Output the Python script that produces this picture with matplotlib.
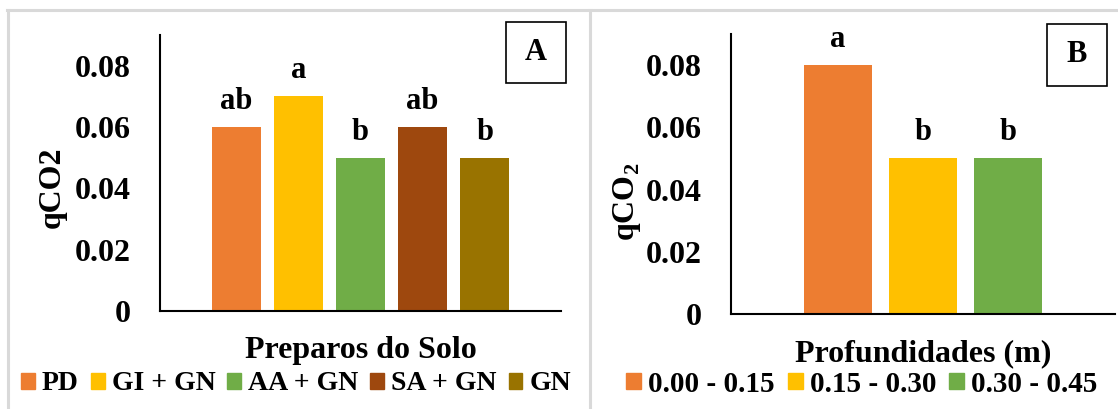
import matplotlib
matplotlib.use('Agg')
import matplotlib.pyplot as plt
from matplotlib.patches import Patch, Rectangle
from matplotlib.lines import Line2D

plt.rcParams.update({
    'font.family': 'Liberation Serif',
    'font.weight': 'bold',
    'font.size': 22,
    'mathtext.fontset': 'custom',
    'mathtext.rm': 'Liberation Serif:bold',
    'mathtext.bf': 'Liberation Serif:bold',
})

# data
prep_labels = ['PD', 'GI + GN', 'AA + GN', 'SA + GN', 'GN']
prep_values = [0.06, 0.07, 0.05, 0.06, 0.05]
prep_letters = ['ab', 'a', 'b', 'ab', 'b']
prep_colors = ['#ED7D31', '#FFC000', '#70AD47', '#9E480E', '#997300']

prof_labels = ['0.00 - 0.15', '0.15 - 0.30', '0.30 - 0.45']
prof_values = [0.08, 0.05, 0.05]
prof_letters = ['a', 'b', 'b']
prof_colors = ['#ED7D31', '#FFC000', '#70AD47']

yticks = [0, 0.02, 0.04, 0.06, 0.08]
ytick_labels = ['0', '0.02', '0.04', '0.06', '0.08']

W, H = 1118, 409
fig = plt.figure(figsize=(W / 100, H / 100), dpi=100)


def px_axes(x0, y0, x1, y1):
    # pixel box (top-left origin) -> axes
    return fig.add_axes([x0 / W, 1 - y1 / H, (x1 - x0) / W, (y1 - y0) / H])


def panel(ax, values, letters, colors, width, xlim, xlabel, ylabel, ylab_y, ylab_pad):
    x = range(len(values))
    ax.bar(x, values, width=width, color=colors)
    for xi, v, l in zip(x, values, letters):
        ax.annotate(l, (xi, v), xytext=(0, 13), textcoords='offset points',
                    ha='center', va='baseline', fontsize=22, fontweight='bold')
    ax.set_xlim(*xlim)
    ax.set_ylim(0, 0.09)
    ax.set_yticks(yticks)
    ax.set_yticklabels(ytick_labels)
    ax.set_xticks([])
    ax.tick_params(axis='y', length=0, pad=21, labelsize=23)
    for s in ['top', 'right']:
        ax.spines[s].set_visible(False)
    ax.spines['left'].set_linewidth(1.5)
    ax.spines['bottom'].set_linewidth(1.5)
    ax.set_xlabel(xlabel, fontsize=23, fontweight='bold', labelpad=18)
    ax.set_ylabel(ylabel, fontsize=23, fontweight='bold', labelpad=ylab_pad)
    ax.yaxis.label.set_y(ylab_y)


axA = px_axes(160, 35, 561, 311)
panel(axA, prep_values, prep_letters, prep_colors, 0.79, (-1.23, 5.23),
      'Preparos do Solo', 'qCO2', 0.45, 6)
axB = px_axes(731, 34, 1115, 314)
panel(axB, prof_values, prof_letters, prof_colors, 0.8, (-1.25, 3.25),
      'Profundidades (m)', 'qCO$_{2}$', 0.40, 2)

# legends
fig.legend(handles=[Patch(color=c, label=l) for c, l in zip(prep_colors, prep_labels)],
           loc='center', bbox_to_anchor=(296 / W, 1 - 384 / H), ncol=5, frameon=False,
           fontsize=20, handlelength=0.5, handleheight=0.5, handletextpad=0.25,
           columnspacing=0.43, borderpad=0)
fig.legend(handles=[Patch(color=c, label=l) for c, l in zip(prof_colors, prof_labels)],
           loc='center', bbox_to_anchor=(862 / W, 1 - 384 / H), ncol=3, frameon=False,
           fontsize=21, handlelength=0.5, handleheight=0.5, handletextpad=0.25,
           columnspacing=0.45, borderpad=0)

# panel letters in boxes
for (x0, y0, x1, y1), lab in [((506, 22, 566, 83), 'A'), ((1047, 24, 1107, 86), 'B')]:
    fig.add_artist(Rectangle((x0 / W, 1 - y1 / H), (x1 - x0) / W, (y1 - y0) / H,
                             transform=fig.transFigure, fill=False,
                             edgecolor='black', linewidth=1.2))
    fig.text((x0 + x1) / 2 / W, 1 - (y0 + y1) / 2 / H, lab, ha='center', va='center',
             fontsize=22, fontweight='bold')

# gray panel frames
gray = '#d9d9d9'
fig.add_artist(Line2D([7 / W, 1], [1 - 10 / H] * 2, transform=fig.transFigure,
                      color=gray, linewidth=2.2))
for xv in [8, 590]:
    fig.add_artist(Line2D([xv / W] * 2, [0, 1 - 10 / H], transform=fig.transFigure,
                          color=gray, linewidth=2.2))

fig.savefig('out.png', dpi=100)
